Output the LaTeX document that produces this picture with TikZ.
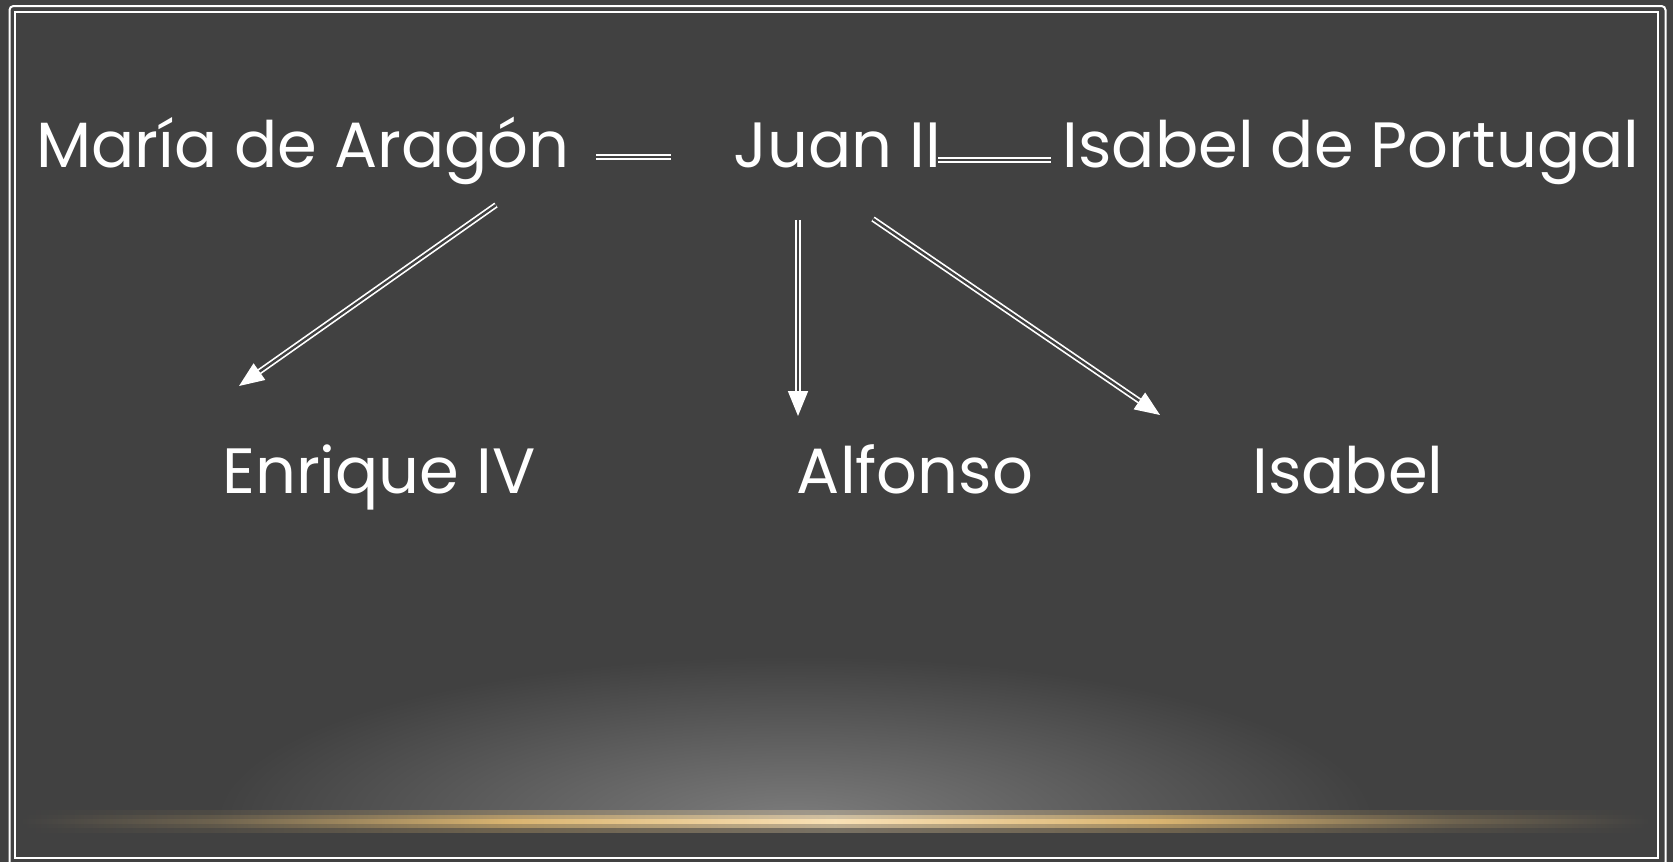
\documentclass[tikz,border=0pt]{standalone}
\usepackage{fontspec}
\setmainfont{Poppins}
\usetikzlibrary{arrows.meta}
\definecolor{slate}{HTML}{414141}
\definecolor{glowgray}{HTML}{7C7C7C}
\definecolor{amber}{HTML}{F4C878}
\pgfdeclarehorizontalshading{ember}{100bp}{color(0bp)=(slate); color(25bp)=(slate); color(31bp)=(amber!25!slate); color(40bp)=(amber!85!slate); color(50bp)=(amber!55!white); color(60bp)=(amber!85!slate); color(69bp)=(amber!25!slate); color(75bp)=(slate); color(100bp)=(slate)}

\begin{document}
\begin{tikzpicture}[x=0.5pt,y=-0.5pt]
\tikzstyle{every node}+=[inner sep=0pt, text=white, font=\fontsize{32}{38}\selectfont]
\tikzstyle{couple}=[draw=white, line width=1pt, double=slate, double distance=1.3pt]
\tikzstyle{child}=[draw=white, line width=0.85pt, double=slate, double distance=1.2pt, -{Triangle[length=12.5pt,width=10pt]}]
\useasboundingbox (0,0) rectangle (1673,862);
\fill [slate] (0,0) rectangle (1673,862);
% glow at the bottom
\begin{scope}
\clip (0,0) rectangle (1673,821);
\shade [inner color=glowgray, outer color=slate] (795,821) ellipse (580 and 165);
\end{scope}
\shade [shading=ember, opacity=0.3] (20,810) rectangle (1650,832);
\shade [shading=ember, opacity=0.55] (20,815) rectangle (1650,827);
\shade [shading=ember] (20,819) rectangle (1650,823);
% frame
\draw [white, line width=1pt, rounded corners=2pt] (9.5,6) rectangle (1665.5,866);
\draw [white, line width=1pt] (14.5,12) rectangle (1658,858);
% people
\node (maria) [anchor=base] at (303,167) {María de Aragón};
\node (juan) [anchor=base] at (837,167) {Juan II};
\node (isabelp) [anchor=base] at (1351,167) {Isabel de Portugal};
\node (enrique) [anchor=base] at (379,493) {Enrique IV};
\node (alfonso) [anchor=base] at (915,493) {Alfonso};
\node (isabel) [anchor=base] at (1348,493) {Isabel};
% marriages
\draw [couple] ([shift={(26,-10)}]maria.base east) -- ([shift={(-62,-10)}]juan.base west);
\draw [couple] ([shift={(-3,-7)}]juan.base east) -- ([shift={(-11,-7)}]isabelp.base west);
% children
\coordinate (mariaout) at (496,205);
\coordinate (juanout) at (798,220);
\coordinate (juanright) at (873,219);
\coordinate (enriquein) at (239,386);
\coordinate (alfonsoin) at (798,416);
\coordinate (isabelin) at (1160,415);
\draw [child] (mariaout) -- (enriquein);
\draw [child] (juanout) -- (alfonsoin);
\draw [child] (juanright) -- (isabelin);
\end{tikzpicture}
\end{document}
